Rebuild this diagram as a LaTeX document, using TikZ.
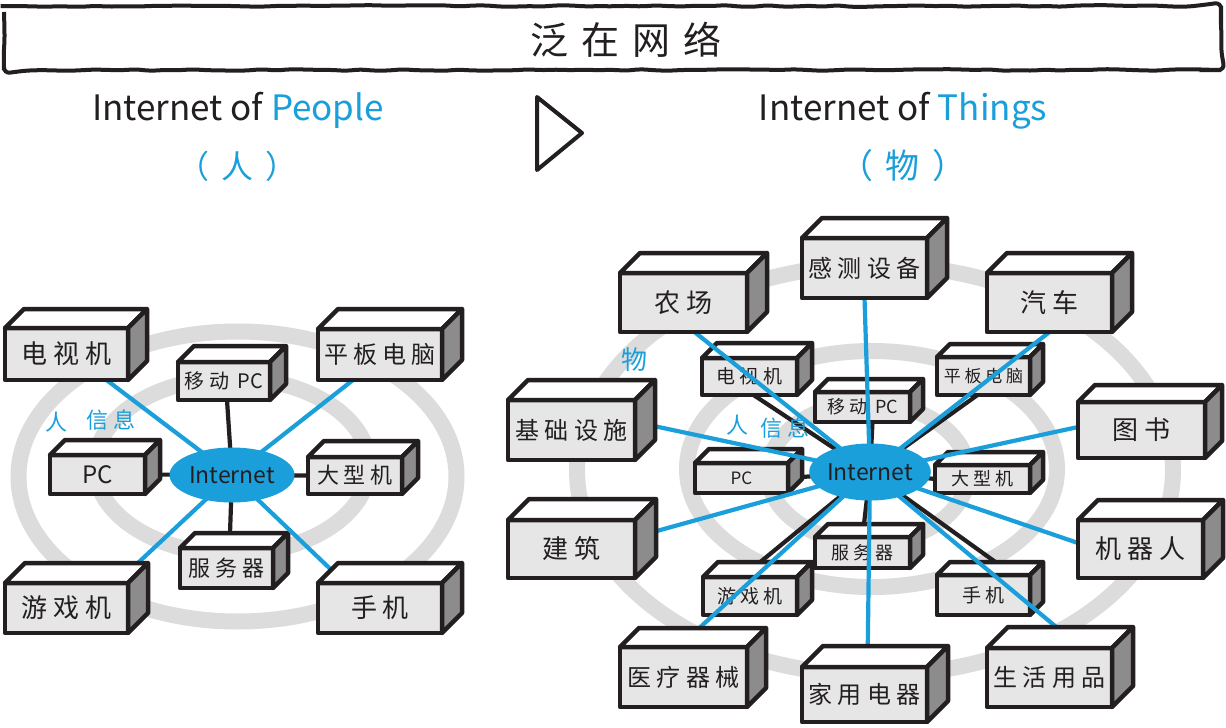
\documentclass[tikz,border=0pt]{standalone}
\usepackage{fontspec}
\setmainfont{Noto Sans CJK SC}
\newfontfamily\boxfont[LetterSpace=22]{Noto Sans CJK SC}
\newfontfamily\titlefont[LetterSpace=35]{Noto Sans CJK SC}
\usetikzlibrary{decorations.pathmorphing,shapes.geometric}
\definecolor{ink}{HTML}{231F20}
\definecolor{sky}{HTML}{1A9FDB}
\definecolor{ringc}{HTML}{DCDCDC}
\definecolor{face}{HTML}{E6E6E6}
\definecolor{sidec}{HTML}{8C8C8C}
\pgfdeclarelayer{paper}\pgfdeclarelayer{rings}\pgfdeclarelayer{blk}\pgfdeclarelayer{blu}\pgfdeclarelayer{ell}\pgfdeclarelayer{big}
\pgfsetlayers{paper,rings,blk,main,blu,ell,big}
\tikzset{
 cubefront/.style={draw=ink, fill=face, line width=4.5pt, line join=round, inner sep=0pt, outer sep=0pt, text=ink},
 cubetop/.style={draw=ink, fill=white, line width=4.5pt, line join=round},
 cubeside/.style={draw=ink, fill=sidec, line width=4.5pt, line join=round},
 blueline/.style={draw=sky, line width=4.2pt},
 blackline/.style={draw=ink, line width=4.2pt},
 ringline/.style={draw=ringc, line width=16pt},
 bluelabel/.style={text=sky, inner sep=0pt},
 inet/.style={ellipse, fill=sky, inner sep=0pt, text=ink, font=\fontsize{23}{23}\selectfont},
}
\newcommand\mycube[8]{%
  \node[cubefront, minimum width={(#4-#2)*1pt}, minimum height={(#5-#3)*1pt}, font=\boxfont\fontsize{#7}{#7}\selectfont] (#1) at ({(#2+#4)/2},{(#3+#5)/2}) {#8};
  \draw[cubetop] (#1.north west) -- ([shift={(#6,-#6)}]#1.north west) -- ([shift={(#6,-#6)}]#1.north east) -- (#1.north east) -- cycle;
  \draw[cubeside] (#1.north east) -- ([shift={(#6,-#6)}]#1.north east) -- ([shift={(#6,-#6)}]#1.south east) -- (#1.south east) -- cycle;
}
\begin{document}
\begin{tikzpicture}[x=1pt,y=-1pt]
\begin{pgfonlayer}{paper}
\fill[white] (0,0) rectangle (1226,728);
\end{pgfonlayer}
\useasboundingbox (0,0) rectangle (1226,728);
\pgfmathsetseed{3}
% title
\draw[ink, line width=4pt, decorate, decoration={random steps, segment length=14pt, amplitude=0.9pt}, rounded corners=6pt] (4,6) rectangle (1221,70);
\node[text=ink, font=\titlefont\fontsize{38}{38}\selectfont] (title) at (626,40) {泛在网络};
\node[text=ink, anchor=base, font=\fontsize{35}{35}\selectfont] (hdrL) at (238,120) {Internet of \textcolor{sky}{People}};
\node[text=ink, anchor=base, font=\fontsize{35}{35}\selectfont] (hdrR) at (903,120) {Internet of \textcolor{sky}{Things}};
\node[text=sky, font=\fontsize{32}{32}\selectfont] (parL) at (237,166) {（\hspace{12pt}人\hspace{12pt}）};
\node[text=sky, font=\fontsize{34}{34}\selectfont] (parR) at (903,166) {（\hspace{13pt}物\hspace{13pt}）};
\draw[ink, line width=4pt, line join=round] (537,97) -- (537,170) -- (582,133) -- cycle;
% rings
\begin{pgfonlayer}{rings}
\draw[ringline] (237.5,476.5) ellipse [x radius=219pt, y radius=145pt];
\draw[ringline] (232,466) ellipse [x radius=137pt, y radius=88pt];
\draw[ringline] (875,470) ellipse [x radius=298pt, y radius=205pt];
\draw[ringline] (872,469) ellipse [x radius=185pt, y radius=118pt];
\draw[ringline] (868,473) ellipse [x radius=100pt, y radius=70pt];
\end{pgfonlayer}
% internet ellipses
\begin{pgfonlayer}{ell}
\node[inet, minimum width=125pt, minimum height=55pt] (inetL) at (232,475) {Internet};
\node[inet, minimum width=120pt, minimum height=57pt] (inetR) at (870,472) {Internet};
\end{pgfonlayer}
% small boxes
\mycube{mpcL}{178}{362}{270}{400}{16}{20}{移动 {\rmfamily PC}}
\mycube{pcL}{50}{455}{145}{494}{15}{24}{\rmfamily PC}
\mycube{mainfL}{308}{457}{402}{494}{16}{22}{大型机}
\mycube{srvL}{180}{548}{273}{588}{15}{22}{服务器}
\mycube{tvR}{702}{358}{797}{395}{15}{19}{电视机}
\mycube{mpcR}{815}{392}{910}{422}{13}{18}{移动 {\rmfamily PC}}
\mycube{tabR}{937}{357}{1030}{395}{13}{17}{平板电脑}
\mycube{pcR}{695}{463}{788}{493}{14}{17}{\rmfamily PC}
\mycube{mainfR}{935}{465}{1030}{493}{13}{18}{大型机}
\mycube{srvR}{815}{537}{910}{568}{13}{18}{服务器}
\mycube{gameR}{703}{577}{797}{615}{15}{19}{游戏机}
\mycube{phoneR}{937}{575}{1030}{615}{13}{19}{手机}
% big boxes
\begin{pgfonlayer}{big}
\mycube{tvL}{5}{328}{128}{380}{19}{26}{电视机}
\mycube{tabL}{318}{329}{442}{380}{20}{24}{平板电脑}
\mycube{gameL}{5}{583}{128}{633}{20}{26}{游戏机}
\mycube{phoneL}{318}{583}{442}{633}{20}{26}{手机}
\mycube{farm}{620}{273}{747}{332}{20}{26}{农场}
\mycube{sense}{802}{238}{927}{298}{20}{24}{感测设备}
\mycube{car}{987}{273}{1112}{332}{20}{26}{汽车}
\mycube{infra}{508}{400}{635}{460}{20}{24}{基础设施}
\mycube{book}{1078}{402}{1205}{458}{17}{26}{图书}
\mycube{build}{508}{520}{635}{578}{21}{26}{建筑}
\mycube{robot}{1078}{520}{1203}{578}{20}{26}{机器人}
\mycube{med}{620}{647}{747}{707}{19}{24}{医疗器械}
\mycube{home}{802}{667}{927}{722}{21}{24}{家用电器}
\mycube{life}{987}{648}{1112}{707}{21}{24}{生活用品}
\node[bluelabel, font=\fontsize{22}{22}\selectfont] (renL) at (56,422) {人};
\node[bluelabel, font=\boxfont\fontsize{22}{22}\selectfont] (xinxiL) at (111,420) {信息};
\node[bluelabel, font=\fontsize{22}{22}\selectfont] (renR) at (737,425) {人};
\node[bluelabel, font=\boxfont\fontsize{22}{22}\selectfont] (xinxiR) at (785,428) {信息};
\node[bluelabel, font=\fontsize{26}{26}\selectfont] (wuR) at (634,360) {物};
\end{pgfonlayer}
% black connectors
\begin{pgfonlayer}{blk}
\draw[blackline] ([xshift=3pt]mpcL.south) -- (inetL.center);
\draw[blackline] (pcL.east) -- (inetL.center);
\draw[blackline] (mainfL.west) -- (inetL.center);
\draw[blackline] ([xshift=3pt]srvL.north) -- (inetL.center);
\draw[blackline] ([xshift=4pt]tvR.south) -- (inetR.center);
\draw[blackline] ([xshift=10pt]mpcR.south) -- (inetR.center);
\draw[blackline] ([xshift=-6pt]tabR.south) -- (inetR.center);
\draw[blackline] (pcR.east) -- (inetR.center);
\draw[blackline] (mainfR.west) -- (inetR.center);
\draw[blackline] (srvR.north) -- (inetR.center);
\draw[blackline] ([xshift=-8pt]gameR.north) -- (inetR.center);
\draw[blackline] ([xshift=30pt]phoneR.north) -- (inetR.center);
\end{pgfonlayer}
% blue connectors
\begin{pgfonlayer}{blu}
\draw[blueline] (inetL.center) -- ([xshift=40pt]tvL.south);
\draw[blueline] (inetL.center) -- ([xshift=-27pt]tabL.south);
\draw[blueline] (inetL.center) -- ([xshift=50pt]gameL.north);
\draw[blueline] (inetL.center) -- ([xshift=-35pt]phoneL.north);
\draw[blueline] (inetR.center) -- ([xshift=11pt]farm.south);
\draw[blueline] (inetR.center) -- (sense.south);
\draw[blueline] (inetR.center) -- (car.south);
\draw[blueline] (inetR.center) -- ([yshift=8pt]infra.east);
\draw[blueline] (inetR.center) -- ([yshift=3pt]book.west);
\draw[blueline] (inetR.center) -- ([yshift=12pt]build.east);
\draw[blueline] (inetR.center) -- ([yshift=6pt]robot.west);
\draw[blueline] (inetR.center) -- ([xshift=-5pt]med.north);
\draw[blueline] (inetR.center) -- ([xshift=3pt]home.north);
\draw[blueline] (inetR.center) -- ([xshift=32pt]life.north);
\end{pgfonlayer}
\end{tikzpicture}
\end{document}
